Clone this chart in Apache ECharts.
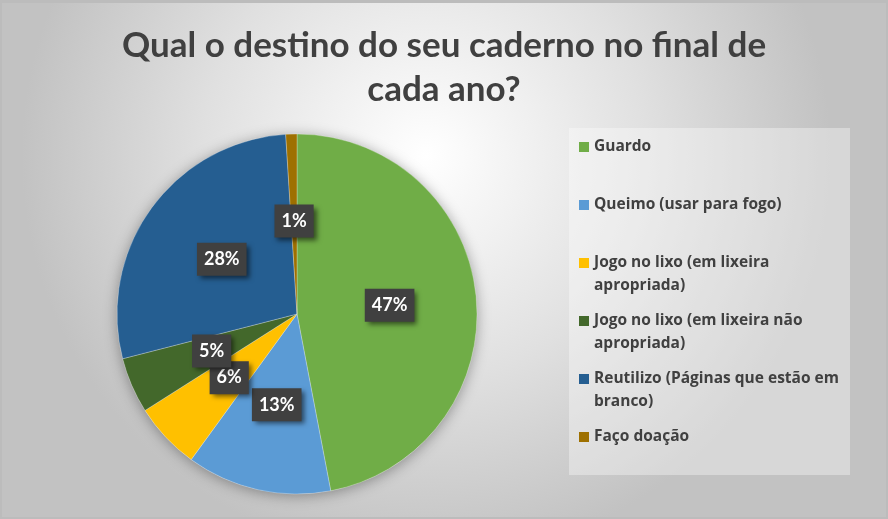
<!DOCTYPE html>
<html>
<head>
<meta charset="utf-8">
<script src="https://cdn.jsdelivr.net/npm/echarts@6/dist/echarts.min.js"></script>
<style>
  html, body { margin: 0; padding: 0; }
  #wrap { position: relative; width: 888px; height: 519px; }
  #chart { width: 888px; height: 519px; }
  #frame { position: absolute; left: 0; top: 0; width: 888px; height: 519px; box-sizing: border-box;
           border: 2px solid #bcbcbc; border-top-width: 3px; pointer-events: none; }
</style>
</head>
<body>
<div id="wrap"><div id="chart"></div><div id="frame"></div></div>
<script>
const titleText = 'Qual o destino do seu caderno no final de\ncada ano?';
const categories = [
  'Guardo',
  'Queimo (usar para fogo)',
  'Jogo no lixo (em lixeira apropriada)',
  'Jogo no lixo (em lixeira não apropriada)',
  'Reutilizo (Páginas que estão em branco)',
  'Faço doação'
];
const legendLines = [
  ['Guardo'],
  ['Queimo (usar para fogo)'],
  ['Jogo no lixo (em lixeira', 'apropriada)'],
  ['Jogo no lixo (em lixeira não', 'apropriada)'],
  ['Reutilizo (Páginas que estão em', 'branco)'],
  ['Faço doação']
];
const percentValues = [47, 13, 6, 5, 28, 1];
const colors = ['#70AD47', '#5B9BD5', '#FFC000', '#43682B', '#255E91', '#9E7000'];

const CENTER = [297, 314];
const RADIUS = 180;
const FONT = 'Lato';
const LEGEND_FONT = 'Open Sans';

const chart = echarts.init(document.getElementById('chart'), null, { renderer: 'canvas' });

const option = {
  animation: false,
  backgroundColor: {
    type: 'radial', x: 0.48, y: 0.3, r: 0.78,
    colorStops: [
      { offset: 0, color: '#ffffff' },
      { offset: 0.55, color: '#e0e0e0' },
      { offset: 1, color: '#c2c2c2' }
    ]
  },
  color: colors,
  title: {
    text: titleText,
    left: 'center',
    top: 19,
    textStyle: {
      fontFamily: FONT, fontWeight: 'bold', fontSize: 35, lineHeight: 44, color: '#404040'
    }
  },
  legend: {
    orient: 'vertical',
    left: 569,
    top: 128,
    padding: [11, 4, 7, 10],
    backgroundColor: 'rgba(255,255,255,0.35)',
    itemWidth: 10,
    itemHeight: 10,
    itemGap: 19,
    icon: 'rect',
    selectedMode: false,
    itemStyle: { borderWidth: 0 },
    data: categories,
    formatter: function (name) {
      const lines = legendLines[categories.indexOf(name)].slice();
      if (lines.length < 2) lines.push('\u00a0');
      return lines.map(l => '{a|' + l + '}').join('\n');
    },
    textStyle: {
      padding: [23, 0, 0, 0],
      rich: {
        a: { fontFamily: LEGEND_FONT, fontWeight: 'bold', fontSize: 15.5, lineHeight: 23, color: '#404040', width: 252 }
      }
    }
  },
  series: [
    {
      type: 'pie',
      silent: true,
      center: CENTER,
      radius: RADIUS,
      z: 1,
      data: [{ value: 1, name: '' }],
      label: { show: false },
      labelLine: { show: false },
      itemStyle: { color: '#cfcfcf', shadowBlur: 14, shadowColor: 'rgba(0,0,0,0.35)', shadowOffsetY: 2 },
      emphasis: { disabled: true },
      tooltip: { show: false }
    },
    {
      type: 'pie',
      center: CENTER,
      radius: RADIUS,
      startAngle: 90,
      clockwise: true,
      z: 2,
      avoidLabelOverlap: false,
      labelLayout: { hideOverlap: false },
      data: categories.map((c, i) => ({ name: c, value: percentValues[i] })),
      itemStyle: { borderColor: 'rgba(255,255,255,0.45)', borderWidth: 0.6 },
      emphasis: { disabled: true },
      label: {
        show: true,
        position: 'inside',
        formatter: '{d}%',
        color: '#ffffff',
        fontFamily: FONT,
        fontWeight: 'bold',
        fontSize: 18,
        lineHeight: 18,
        backgroundColor: '#404040',
        padding: [8, 7, 7, 7],
        shadowColor: 'rgba(0,0,0,0.55)',
        shadowBlur: 5,
        shadowOffsetX: 3,
        shadowOffsetY: 3
      },
      labelLine: { show: false }
    }
  ]
};
chart.setOption(option);
</script>
</body>
</html>
